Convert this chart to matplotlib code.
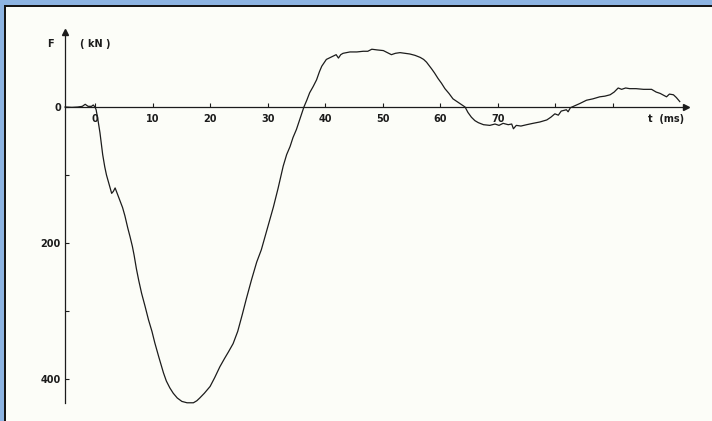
import matplotlib
matplotlib.use("Agg")
import matplotlib.pyplot as plt
from matplotlib.patches import Rectangle

# force record: t in ms, F in kN (compression drawn downwards)
t_ms = [-5.2, -4.0, -3.0, -2.2, -1.7, -1.2, -0.6, -0.3, 0.0,
        0.2, 0.5, 0.87, 1.34, 1.7, 2.0, 2.5, 2.9, 3.2, 3.5, 3.9, 4.3, 4.8, 5.2,
        5.7, 6.1, 6.5, 6.8, 7.2, 7.6, 8.1, 8.7, 9.3, 9.9, 10.4, 11.1, 11.9,
        12.4, 13.0, 13.6, 14.3, 15.1, 16.0, 17.1, 17.7, 18.2, 19.0, 20.0,
        20.8, 21.7, 22.5, 23.2, 24.0, 24.8, 25.6, 26.3, 27.2, 28.1, 28.9,
        29.8, 30.4, 31.0, 31.8, 32.7, 33.3, 33.9, 34.4, 35.0, 35.6, 36.3,
        36.8, 37.3, 37.9, 38.5, 39.0, 39.4, 40.2, 41.4, 41.9, 42.3, 42.7,
        43.1, 44.3, 45.5, 46.6, 47.4, 48.1, 49.0, 50.1, 50.8, 51.5, 52.2,
        53.0, 53.8, 54.7, 55.6, 56.5, 57.1, 57.6, 58.5, 59.0, 59.6, 60.2,
        60.8, 61.5, 62.2, 62.9, 63.6, 64.3, 64.8, 65.4, 66.0, 66.6, 67.5,
        68.6, 69.5, 70.2, 70.9, 71.8, 72.4, 72.7, 73.2, 74.0, 75.0, 76.1,
        77.3, 78.5, 79.2, 79.9, 80.5, 81.0, 81.9, 82.2, 82.6, 83.4, 84.2,
        85.4, 86.5, 87.7, 88.6, 89.5, 90.2, 90.9, 91.5, 92.2, 92.9, 94.0,
        95.3, 96.7, 97.5, 98.2, 99.3, 99.8, 100.5, 101.0, 101.6]
force_kn = [0, 0.5, 0, -1, -4, -1, -1, -3, 0,
            4, 18, 38, 70, 88, 100, 115, 127, 124, 119, 128, 137, 148, 160,
            178, 191, 205, 218, 238, 255, 274, 293, 313, 330, 347, 368, 391,
            403, 413, 421, 428, 433, 435, 435, 432, 428, 421, 411,
            398, 382, 370, 360, 348, 330, 305, 282, 254, 228, 210,
            183, 165, 147, 120, 87, 70, 58, 45, 33, 18, 0,
            -10, -21, -30, -40, -52, -60, -70, -75, -77, -72, -77,
            -79, -81, -81, -82, -82, -85, -84, -83, -80, -77, -79,
            -80, -79, -78, -76, -73, -70, -66, -56, -50, -42, -35,
            -27, -20, -12, -8, -4, 0, 8, 15, 20, 23, 26,
            27, 25, 27, 24, 26, 25, 32, 27, 28, 26, 24,
            22, 19, 15, 10, 12, 6, 4, 7, 1, -2, -5,
            -10, -12, -15, -16, -18, -22, -28, -26, -28, -27, -27,
            -26, -26, -22, -20, -15, -19, -18, -14, -8]

x_ticks = [0, 10, 20, 30, 40, 50, 60, 70, 80, 90]
x_labels = ["0", "10", "20", "30", "40", "50", "60", "70", "", ""]
y_ticks = [0, 100, 200, 300, 400]
y_labels = ["0", "", "200", "", "400"]

ink = "#1c1c1c"
paper = "#fcfdf8"

fig = plt.figure(figsize=(7.12, 4.21), dpi=100, facecolor=paper)
ax = fig.add_axes([0, 0, 1, 1])
ax.set_facecolor("none")

ax.plot(t_ms, force_kn, color=ink, lw=0.9)

# axes limits chosen so the drawing sits where it does on the page
ax.set_xlim(-16.5, 107.2)
ax.set_ylim(461.8, -157.4)

t_start, t_end = -5.2, 102.7
f_top, f_bottom = -110, 436

for side in ["top", "right"]:
    ax.spines[side].set_visible(False)
ax.spines["left"].set_position(("data", t_start))
ax.spines["left"].set_bounds(f_top, f_bottom)
ax.spines["bottom"].set_position(("data", 0))
ax.spines["bottom"].set_bounds(t_start, t_end)
for side in ["left", "bottom"]:
    ax.spines[side].set_color(ink)
    ax.spines[side].set_linewidth(0.9)

# arrow heads on the axes
ax.plot([t_end], [0], marker=">", ms=4, color=ink, clip_on=False)
ax.plot([t_start], [f_top], marker="^", ms=4, color=ink, clip_on=False)

ax.set_xticks(x_ticks)
ax.set_xticklabels(x_labels)
ax.set_yticks(y_ticks)
ax.set_yticklabels(y_labels)
ax.tick_params(axis="x", direction="in", length=3, width=0.8, color=ink, pad=5,
               labelsize=7, labelcolor=ink)
ax.tick_params(axis="y", direction="in", length=3, width=0.8, color=ink, pad=3,
               labelsize=7, labelcolor=ink)
for lab in ax.get_xticklabels() + ax.get_yticklabels():
    lab.set_fontweight("bold")

ax.text(-7.8, -93, "F", fontsize=7, fontweight="bold", color=ink,
        ha="center", va="center")
ax.text(0.0, -93, "( kN )", fontsize=7, fontweight="bold", color=ink,
        ha="center", va="center")
ax.text(99.3, 17, "t  (ms)", fontsize=7, fontweight="bold", color=ink,
        ha="center", va="center")

# blue frame of the scan (top and left edges)
W, H = 712, 421
fig.patches.append(Rectangle((0, 1 - 5 / H), 1, 5 / H, transform=fig.transFigure,
                             facecolor="#8db4e2", edgecolor="none", zorder=5))
fig.patches.append(Rectangle((0, 0), 4 / W, 1, transform=fig.transFigure,
                             facecolor="#8db4e2", edgecolor="none", zorder=5))
fig.patches.append(Rectangle((4 / W, 0), 1.5 / W, 1 - 5 / H, transform=fig.transFigure,
                             facecolor="#151515", edgecolor="none", zorder=6))
fig.patches.append(Rectangle((4 / W, 1 - 6.5 / H), 1, 1.5 / H, transform=fig.transFigure,
                             facecolor="#151515", edgecolor="none", zorder=6))

fig.savefig("out.png", dpi=100, facecolor=paper)
